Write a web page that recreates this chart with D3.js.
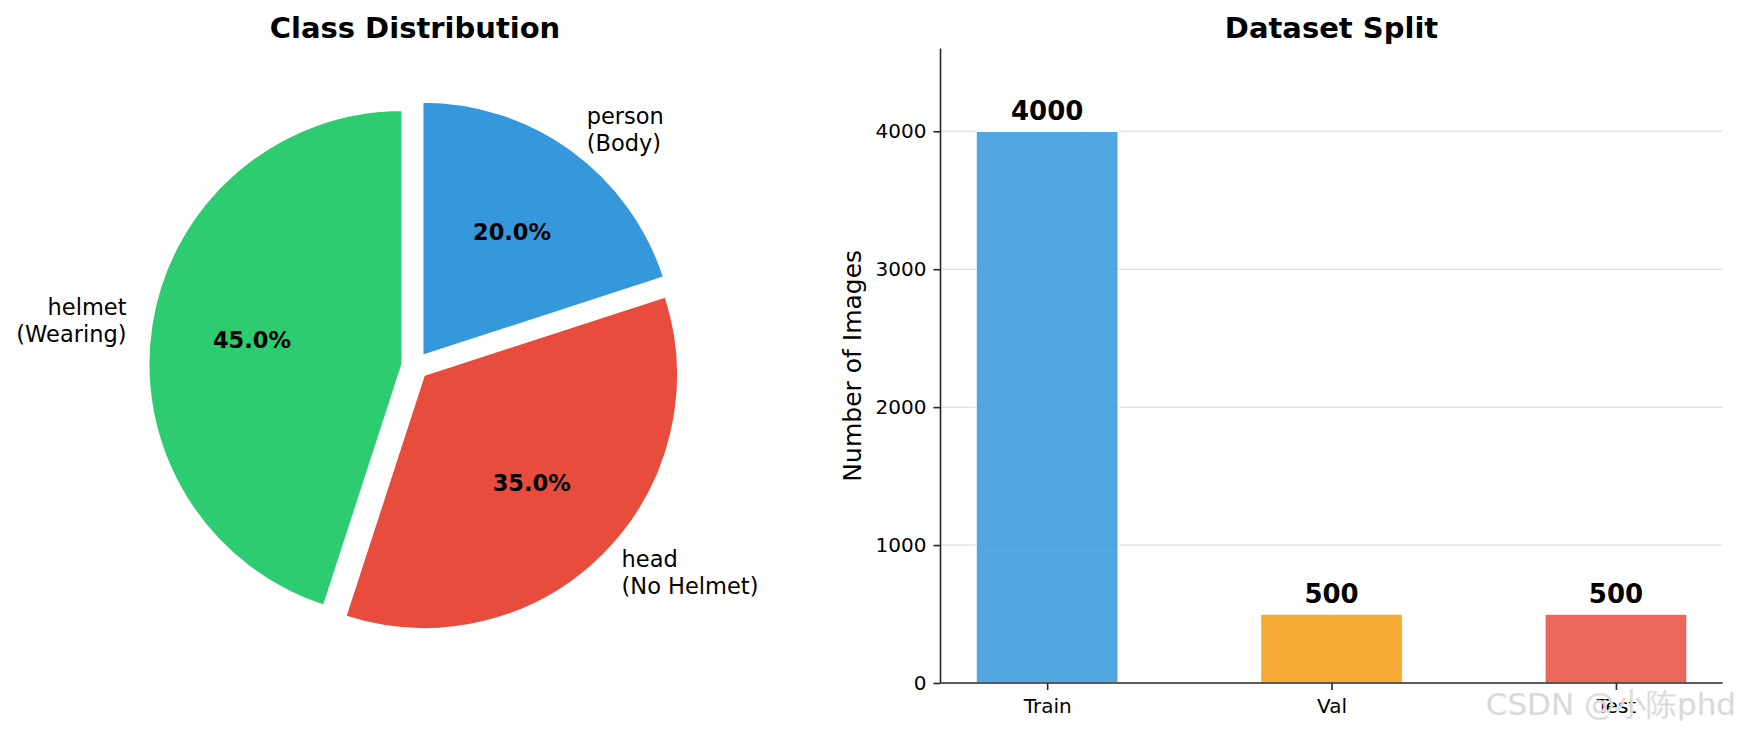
<!DOCTYPE html>
<html>
<head>
<meta charset="utf-8">
<script src="https://cdn.jsdelivr.net/npm/d3@7"></script>
<style>
body { margin: 0; background: #fff; }
text { font-family: "DejaVu Sans", sans-serif; }
</style>
</head>
<body>
<svg id="chart"></svg>
<script>
var width = 1737;
var height = 733;

// pie data (drawn counterclockwise from 12 o'clock, like matplotlib)
var classNames = ["helmet\n(Wearing)", "head\n(No Helmet)", "person\n(Body)"];
var classShares = [45, 35, 20];
var classColors = ["#2ecc71", "#e74c3c", "#3498db"];

// bar data
var splitNames = ["Train", "Val", "Test"];
var splitCounts = [4000, 500, 500];
var splitColors = ["#3498db", "#f39c12", "#e74c3c"];
var yTicks = [0, 1000, 2000, 3000, 4000];

var svg = d3.select("svg#chart")
    .attr("width", width)
    .attr("height", height);

// ---------- pie ----------
var cx = 415, cy = 366, radius = 254, explode = 0.05;

svg.append("text")
    .text("Class Distribution")
    .attr("x", cx)
    .attr("y", 38)
    .attr("text-anchor", "middle")
    .attr("font-size", 29)
    .attr("font-weight", "bold");

var pie = d3.pie().sort(null).startAngle(0).endAngle(-2 * Math.PI);
var arc = d3.arc().innerRadius(0).outerRadius(radius);
var slices = pie(classShares);

var pieG = svg.append("g").attr("transform", "translate(" + cx + "," + cy + ")");

slices.forEach(function(s, i) {
    var mid = (s.startAngle + s.endAngle) / 2;
    var dx = Math.sin(mid), dy = -Math.cos(mid);
    var ox = dx * explode * radius, oy = dy * explode * radius;
    var g = pieG.append("g").attr("transform", "translate(" + ox + "," + oy + ")");
    g.append("path")
	.attr("d", arc(s))
	.attr("fill", classColors[i])
	.attr("stroke", "white")
	.attr("stroke-width", 2)
	.attr("stroke-linejoin", "round");
    // percentage inside
    g.append("text")
	.text(d3.format(".1f")(classShares[i]) + "%")
	.attr("x", dx * radius * 0.6)
	.attr("y", dy * radius * 0.6)
	.attr("dy", "0.35em")
	.attr("text-anchor", "middle")
	.attr("font-size", 22.5)
	.attr("font-weight", "bold");
    // outside label
    var lines = classNames[i].split("\n");
    var lineH = 27;
    var lx = dx * radius * 1.1, ly = dy * radius * 1.1;
    var t = g.append("text")
	.attr("text-anchor", dx > 0 ? "start" : "end")
	.attr("font-size", 22.5);
    lines.forEach(function(line, j) {
	t.append("tspan")
	    .text(line)
	    .attr("x", lx)
	    .attr("y", ly + (j - (lines.length - 1) / 2) * lineH)
	    .attr("dy", "0.35em");
    });
});

// ---------- bars ----------
var axLeft = 940.5, axRight = 1722.6, axTop = 48.5, axBottom = 683;

var x = d3.scaleLinear().domain([-0.375, 2.375]).range([axLeft, axRight]);
var y = d3.scaleLinear().domain([0, 4600]).range([axBottom, axTop]);
var barW = 0.5;

svg.append("text")
    .text("Dataset Split")
    .attr("x", (axLeft + axRight) / 2)
    .attr("y", 38)
    .attr("text-anchor", "middle")
    .attr("font-size", 29)
    .attr("font-weight", "bold");

// grid
svg.append("g").selectAll("line")
    .data(yTicks.filter(function(d) { return d > 0; }))
    .enter().append("line")
    .attr("x1", axLeft).attr("x2", axRight)
    .attr("y1", function(d) { return y(d); })
    .attr("y2", function(d) { return y(d); })
    .attr("stroke", "#e3e3e3")
    .attr("stroke-width", 1.5);

svg.append("g").selectAll("rect")
    .data(splitCounts)
    .enter().append("rect")
    .attr("x", function(d, i) { return x(i - barW / 2); })
    .attr("width", x(barW) - x(0))
    .attr("y", function(d) { return y(d); })
    .attr("height", function(d) { return y(0) - y(d); })
    .attr("fill", function(d, i) { return splitColors[i]; })
    .attr("fill-opacity", 0.85)
    .attr("stroke", "white")
    .attr("stroke-width", 1.5);

svg.append("g").selectAll("text")
    .data(splitCounts)
    .enter().append("text")
    .text(function(d) { return d; })
    .attr("x", function(d, i) { return x(i); })
    .attr("y", function(d) { return y(d) - 11; })
    .attr("text-anchor", "middle")
    .attr("font-size", 26)
    .attr("font-weight", "bold");

var yAxis = d3.axisLeft(y).tickValues(yTicks).tickSize(7).tickPadding(7).tickFormat(d3.format("d"));
var xAxis = d3.axisBottom(x).tickValues([0, 1, 2]).tickSize(7).tickPadding(9)
    .tickFormat(function(d) { return splitNames[d]; });

var ya = svg.append("g").attr("transform", "translate(" + axLeft + ",0)").call(yAxis);
var xa = svg.append("g").attr("transform", "translate(0," + axBottom + ")").call(xAxis);
[ya, xa].forEach(function(a) {
    a.select(".domain").attr("stroke", "#262626").attr("stroke-width", 1.6);
    a.selectAll(".tick line").attr("stroke", "#262626").attr("stroke-width", 1.6);
    a.selectAll(".tick text")
	.attr("font-family", "DejaVu Sans")
	.attr("font-size", 20)
	.attr("fill", "black");
});
// straight spine ends, no outer ticks
ya.select(".domain").attr("d", "M0," + axTop + "V" + axBottom);
xa.select(".domain").attr("d", "M" + axLeft + ",0H" + axRight);

svg.append("text")
    .text("Number of Images")
    .attr("transform", "translate(852," + (axTop + axBottom) / 2 + ") rotate(-90)")
    .attr("dy", "0.35em")
    .attr("text-anchor", "middle")
    .attr("font-size", 25);

// watermark
svg.append("text")
    .text("CSDN @小陈phd")
    .attr("x", width - 1)
    .attr("y", 715)
    .attr("text-anchor", "end")
    .attr("font-family", "'Noto Sans CJK SC', 'DejaVu Sans', sans-serif")
    .attr("font-size", 31)
    .attr("fill", "#d6d6d6")
    .attr("stroke", "#ececec")
    .attr("stroke-width", 0.6);
</script>
</body>
</html>
